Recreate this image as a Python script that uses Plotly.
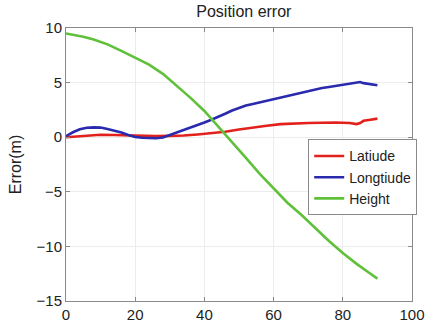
import plotly.graph_objects as go

# Latitude error (m) versus time
lat_x = [0, 2, 4, 6, 8, 10, 14, 18, 22, 26, 30, 34, 38, 42, 46, 50, 54, 58, 62, 66, 70, 74, 78, 82, 84, 85, 86, 88, 90]
lat_y = [0.0, 0.05, 0.12, 0.17, 0.2, 0.22, 0.2, 0.15, 0.12, 0.1, 0.12, 0.15, 0.25, 0.38, 0.5, 0.7, 0.9, 1.05, 1.2, 1.28, 1.3, 1.33, 1.35, 1.3, 1.2, 1.3, 1.5, 1.6, 1.7]

# Longitude error (m)
lon_x = [0, 2, 4, 6, 8, 10, 12, 14, 16, 18, 20, 22, 24, 26, 28, 30, 32, 34, 36, 38, 40, 42, 44, 46, 48, 50,
         52, 54, 56, 58, 60, 62, 64, 66, 68, 70, 72, 74, 76, 78, 80, 82, 84, 85, 86, 88, 90]
lon_y = [0.1, 0.45, 0.72, 0.86, 0.9, 0.88, 0.75, 0.6, 0.42, 0.2, 0.02, -0.05, -0.1, -0.1, -0.02, 0.2, 0.45, 0.65,
         0.85, 1.1, 1.35, 1.6, 1.85, 2.15, 2.45, 2.7, 2.9, 3.05, 3.2, 3.35, 3.5, 3.65, 3.8, 3.95, 4.1, 4.25, 4.4,
         4.5, 4.6, 4.7, 4.75, 4.85, 5.0, 5.05, 4.95, 4.85, 4.75]

# Height error (m)
hgt_x = [0, 1, 5, 8, 12, 16, 20, 24, 28, 32, 36, 40, 44, 48, 52, 56, 60, 64, 68, 72, 76, 80, 84, 88, 90]
hgt_y = [9.5, 9.45, 9.2, 8.95, 8.5, 7.9, 7.3, 6.65, 5.8, 4.7, 3.6, 2.4, 1.0, -0.4, -1.9, -3.35, -4.7, -6.0,
         -7.1, -8.3, -9.5, -10.6, -11.6, -12.5, -12.95]

x_ticks = [0, 20, 40, 60, 80, 100]
y_ticks = [-15, -10, -5, 0, 5, 10]

fig = go.Figure()
fig.add_trace(go.Scatter(x=lat_x, y=lat_y, mode="lines", name="Latiude",
                         line=dict(color="#e3211c", width=2.6)))
fig.add_trace(go.Scatter(x=lon_x, y=lon_y, mode="lines", name="Longtiude",
                         line=dict(color="#2a2aae", width=2.6)))
fig.add_trace(go.Scatter(x=hgt_x, y=hgt_y, mode="lines", name="Height",
                         line=dict(color="#5fc03a", width=2.6)))

axis_common = dict(
    showline=True, linecolor="#8a8a8a", linewidth=1, mirror="ticks",
    ticks="inside", ticklen=4, tickcolor="#8a8a8a",
    showgrid=True, gridcolor="#ececec", gridwidth=1,
    zeroline=False,
    tickfont=dict(family="Liberation Sans, Arial, sans-serif", size=15, color="#222222"),
)

fig.update_layout(
    width=437, height=335,
    margin=dict(l=66, r=15, t=28, b=30),
    paper_bgcolor="white", plot_bgcolor="white",
    title=dict(text="Position error", x=0.558, xanchor="center", y=0.965, yanchor="middle",
               font=dict(family="Liberation Sans, Arial, sans-serif", size=16, color="#222222")),
    xaxis=dict(range=[0, 100], tickvals=x_ticks, **axis_common),
    yaxis=dict(range=[-15, 10], tickvals=y_ticks,
               title=dict(text="Error(m)", standoff=10,
                          font=dict(family="Liberation Sans, Arial, sans-serif", size=16, color="#222222")),
               **axis_common),
    legend=dict(x=0.70, y=0.592, xanchor="left", yanchor="top",
                bgcolor="white", bordercolor="#8a8a8a", borderwidth=1,
                font=dict(family="Liberation Sans, Arial, sans-serif", size=14, color="#222222"),
                tracegroupgap=0, itemwidth=30),
    showlegend=True,
)

fig.write_html("out.html")
